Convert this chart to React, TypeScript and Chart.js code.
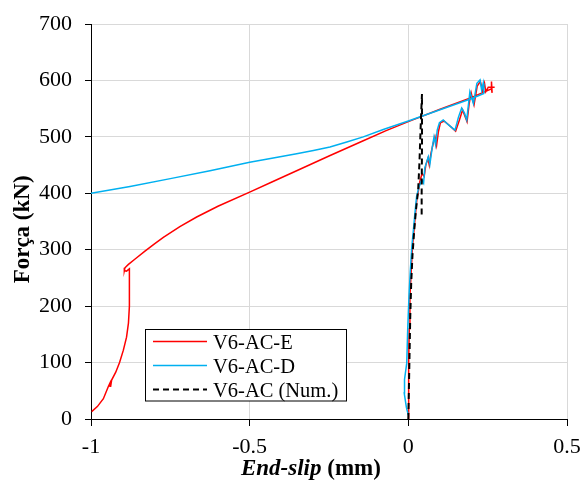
import React, { useEffect, useRef } from 'react';
import { Chart, registerables } from 'chart.js';

Chart.register(...registerables);

// V6-AC-E (experimental, red)
const slipE = [
  0, 0.001, 0.001, 0.003, 0.005, 0.009, 0.013, 0.018, 0.022, 0.027, 0.032, 0.036, 0.043, 0.05, 0.055, 0.062, 0.066,
  0.071, 0.079, 0.084, 0.089, 0.095, 0.101, 0.113, 0.126, 0.149, 0.161, 0.171, 0.176, 0.185, 0.192, 0.198, 0.207,
  0.217, 0.227, 0.234, 0.24, 0.244, 0.252, 0.272, 0.262, 0.262, 0.264, 0.262,
  0.2, 0.1, 0, -0.07, -0.142, -0.25, -0.352, -0.43, -0.5, -0.6, -0.667, -0.72, -0.772, -0.8, -0.83, -0.86, -0.882,
  -0.893, -0.895, -0.888, -0.879, -0.879, -0.879, -0.882, -0.888, -0.898, -0.91, -0.922, -0.935, -0.938, -0.94,
  -0.945, -0.961, -0.98, -0.998,
];
const forceE = [
  0, 50, 99, 160, 217, 260, 305, 335, 360, 390, 405, 420, 435, 430, 450, 462, 450,
  470, 490, 500, 485, 510, 525, 528, 522, 510, 530, 548, 540, 527, 560, 578, 557,
  590, 598, 582, 595, 580, 588, 588, 588, 598, 578, 585,
  570, 549, 527, 511, 493, 466, 440, 420, 402, 377, 358, 341, 322, 310.5, 297.5, 284, 274,
  268, 263, 262, 266, 230, 200, 170, 145, 122, 100, 83, 69, 58, 64,
  58, 36, 22, 13,
];

// V6-AC-D (experimental, blue)
const slipD = [
  0, -0.006, -0.013, -0.012, -0.005, -0.002, 0.002, 0.006, 0.011, 0.016, 0.02, 0.026, 0.033, 0.042, 0.048, 0.052,
  0.063, 0.068, 0.075, 0.081, 0.086, 0.091, 0.098, 0.11, 0.125, 0.147, 0.158, 0.168, 0.177, 0.184, 0.194, 0.205,
  0.216, 0.226, 0.231, 0.236, 0.238,
  0.2, 0.1, 0, -0.079, -0.142, -0.194, -0.247, -0.299, -0.352, -0.43, -0.5, -0.625, -0.75, -0.877, -1,
];
const forceD = [
  7, 20, 46, 70, 99, 158, 217, 260, 305, 335, 360, 394, 410, 424, 418, 445,
  465, 452, 480, 500, 486, 512, 525, 530, 522, 512, 535, 551, 542, 530, 580, 559,
  595, 601, 583, 595, 577,
  568, 548, 528, 513, 500, 491, 482, 476, 470, 462, 455, 440, 426, 412, 400,
];

// V6-AC (Num.) (numerical, black dashed)
const slipN = [0, 0.002, 0.004, 0.006, 0.009, 0.013, 0.018, 0.024, 0.031, 0.035, 0.04, 0.043, 0.043, 0.042, 0.042];
const forceN = [0, 60, 120, 180, 240, 290, 330, 370, 406, 454, 536, 576, 480, 400, 360];

const seriesLabels = ['V6-AC-E', 'V6-AC-D', 'V6-AC (Num.)'];
const xTicks = [-1, -0.5, 0, 0.5];
const yTicks = [0, 100, 200, 300, 400, 500, 600, 700];
const xTitleMain = 'End-slip';
const xTitleUnit = ' (mm)';
const yTitle = 'Força (kN)';

const toPts = (xs: number[], ys: number[]) => xs.map((x, i) => ({ x, y: ys[i] }));

const FONT = '"Liberation Serif", "Times New Roman", serif';

const overlayPlugin = {
  id: 'overlayTexts',
  afterDraw(chart: any) {
    const ctx: CanvasRenderingContext2D = chart.ctx;
    const area = chart.chartArea;
    ctx.save();
    ctx.fillStyle = '#000';
    // X axis title (mixed style)
    ctx.textBaseline = 'alphabetic';
    ctx.textAlign = 'left';
    const f1 = `italic bold 23px ${FONT}`;
    const f2 = `bold 23px ${FONT}`;
    ctx.font = f1;
    const w1 = ctx.measureText(xTitleMain).width;
    ctx.font = f2;
    const w2 = ctx.measureText(xTitleUnit).width;
    const cx = area.left + (area.right - area.left) * 0.462;
    const x0 = cx - (w1 + w2) / 2;
    ctx.font = f1;
    ctx.fillText(xTitleMain, x0, area.bottom + 56);
    ctx.font = f2;
    ctx.fillText(xTitleUnit, x0 + w1, area.bottom + 56);

    // Y axis title
    ctx.save();
    ctx.translate(29, area.top + (area.bottom - area.top) * 0.52);
    ctx.rotate(-Math.PI / 2);
    ctx.font = f2;
    ctx.textAlign = 'center';
    ctx.textBaseline = 'alphabetic';
    ctx.fillText(yTitle, 0, 0);
    ctx.restore();

    // Legend box
    const bx = 145.5, by = 329.5, bw = 201, bh = 71.5;
    ctx.fillStyle = '#fff';
    ctx.fillRect(bx, by, bw, bh);
    ctx.strokeStyle = '#000';
    ctx.lineWidth = 1;
    ctx.setLineDash([]);
    ctx.strokeRect(bx, by, bw, bh);
    const ds = chart.data.datasets;
    ctx.font = `20.5px ${FONT}`;
    ctx.textAlign = 'left';
    ctx.textBaseline = 'alphabetic';
    for (let i = 0; i < ds.length; i++) {
      const ly = 341.5 + i * 24;
      ctx.beginPath();
      ctx.strokeStyle = ds[i].borderColor;
      ctx.lineWidth = ds[i].borderWidth;
      ctx.setLineDash(ds[i].borderDash || []);
      ctx.moveTo(153, ly);
      ctx.lineTo(207, ly);
      ctx.stroke();
      ctx.setLineDash([]);
      ctx.fillStyle = '#000';
      ctx.fillText(ds[i].label, 213, ly + 7);
    }
    ctx.restore();
  },
};

export default function App() {
  const canvasRef = useRef<HTMLCanvasElement>(null);

  useEffect(() => {
    if (!canvasRef.current) return;
    const chart = new Chart(canvasRef.current, {
      type: 'scatter',
      data: {
        datasets: [
          {
            label: seriesLabels[0],
            data: toPts(slipE, forceE),
            showLine: true,
            borderColor: '#ff0000',
            backgroundColor: '#ff0000',
            borderWidth: 1.5,
            pointRadius: 0,
            tension: 0,
            order: 2,
          },
          {
            label: seriesLabels[1],
            data: toPts(slipD, forceD),
            showLine: true,
            borderColor: '#00b0f0',
            backgroundColor: '#00b0f0',
            borderWidth: 1.5,
            pointRadius: 0,
            tension: 0,
            order: 1,
          },
          {
            label: seriesLabels[2],
            data: toPts(slipN, forceN),
            showLine: true,
            borderColor: '#000000',
            backgroundColor: '#000000',
            borderWidth: 2,
            borderDash: [6, 4],
            pointRadius: 0,
            tension: 0,
            order: 0,
          },
        ],
      },
      options: {
        animation: false,
        responsive: true,
        maintainAspectRatio: false,
        layout: { padding: { top: 24, right: 15, left: 0, bottom: 0 } },
        plugins: {
          legend: { display: false },
          tooltip: { enabled: false },
          title: { display: false },
        },
        scales: {
          x: {
            type: 'linear',
            min: -1,
            max: 0.5,
            afterBuildTicks: (s: any) => {
              s.ticks = xTicks.map((v) => ({ value: v }));
            },
            afterFit: (s: any) => {
              s.height = 62;
              s.paddingLeft = 0;
              s.paddingRight = 0;
            },
            ticks: {
              color: '#000',
              font: { family: FONT, size: 22 },
              padding: 8,
              maxRotation: 0,
              callback: (v: any) => String(v),
            },
            grid: { color: '#d9d9d9', lineWidth: 1, tickColor: '#000', tickLength: 7, drawTicks: true },
            border: { color: '#000', width: 1 },
          },
          y: {
            type: 'linear',
            min: 0,
            max: 700,
            afterBuildTicks: (s: any) => {
              s.ticks = yTicks.map((v) => ({ value: v }));
            },
            afterFit: (s: any) => {
              s.width = 91;
              s.paddingTop = 0;
              s.paddingBottom = 0;
            },
            ticks: {
              color: '#000',
              font: { family: FONT, size: 22 },
              padding: 13,
              callback: (v: any) => String(v),
            },
            grid: { color: '#d9d9d9', lineWidth: 1, tickColor: '#000', tickLength: 6, drawTicks: true },
            border: { color: '#000', width: 1 },
          },
        },
      },
      plugins: [overlayPlugin],
    } as any);
    return () => chart.destroy();
  }, []);

  return (
    <div style={{ position: 'absolute', left: 0, top: 0, width: 582, height: 481, background: '#fff' }}>
      <canvas ref={canvasRef} />
    </div>
  );
}
